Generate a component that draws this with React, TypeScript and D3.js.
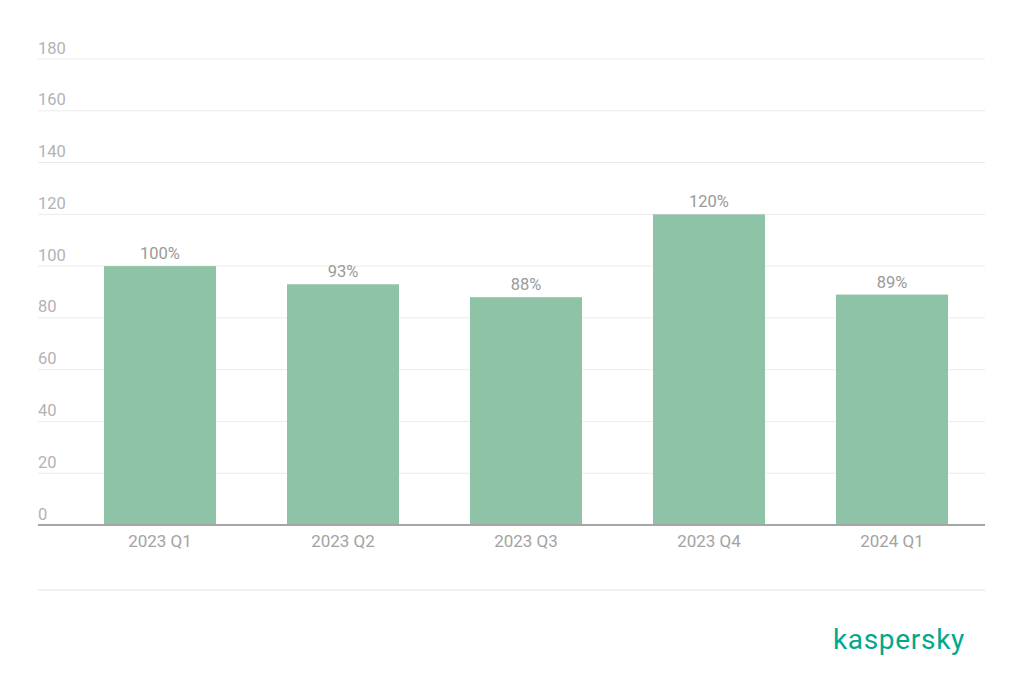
import React from "react";
import * as d3 from "d3";

const categories = ["2023 Q1", "2023 Q2", "2023 Q3", "2023 Q4", "2024 Q1"];
const values = [100, 93, 88, 120, 89];
const valueLabels = ["100%", "93%", "88%", "120%", "89%"];
const yTicks = [0, 20, 40, 60, 80, 100, 120, 140, 160, 180];

export default function App() {
  const W = 1024, H = 695;
  const left = 38, right = 985;
  const x = d3.scaleBand<string>().domain(categories).range([68.5, 983.5]).paddingInner(0.388).paddingOuter(0.194);
  const y = d3.scaleLinear().domain([0, 180]).range([525, 59]);
  const font = "Roboto, 'Noto Sans', sans-serif";
  return (
    <svg width={W} height={H} style={{ position: "absolute", left: 0, top: 0, background: "#fff" }}>
      {yTicks.map((t) => (
        <g key={t}>
          {t > 0 && <line x1={left} x2={right} y1={y(t)} y2={y(t)} stroke="#ebebeb" strokeWidth={1} />}
          <text x={left} y={y(t) - 5.5} fontSize={16.5} fill="#b3b3b3" fontFamily={font}>{t}</text>
        </g>
      ))}
      {categories.map((c, i) => (
        <g key={c}>
          <rect x={x(c)} y={y(values[i])} width={x.bandwidth()} height={y(0) - y(values[i])} fill="#8fc3a7" />
          <text x={x(c)! + x.bandwidth() / 2} y={y(values[i]) - 7} fontSize={16.5} fill="#9a9a9a" textAnchor="middle" fontFamily={font}>{valueLabels[i]}</text>
          <text x={x(c)! + x.bandwidth() / 2} y={547} fontSize={17} fill="#a3a3a3" textAnchor="middle" fontFamily={font}>{c}</text>
        </g>
      ))}
      <line x1={left} x2={right} y1={y(0)} y2={y(0)} stroke="#a6a6a6" strokeWidth={2} />
      <line x1={left} x2={right} y1={590} y2={590} stroke="#e0e0e0" strokeWidth={1} />
      <text x={965} y={649} fontSize={28} fill="#00a88e" textAnchor="end" fontFamily={font} letterSpacing={0.7}>kaspersky</text>
    </svg>
  );
}
